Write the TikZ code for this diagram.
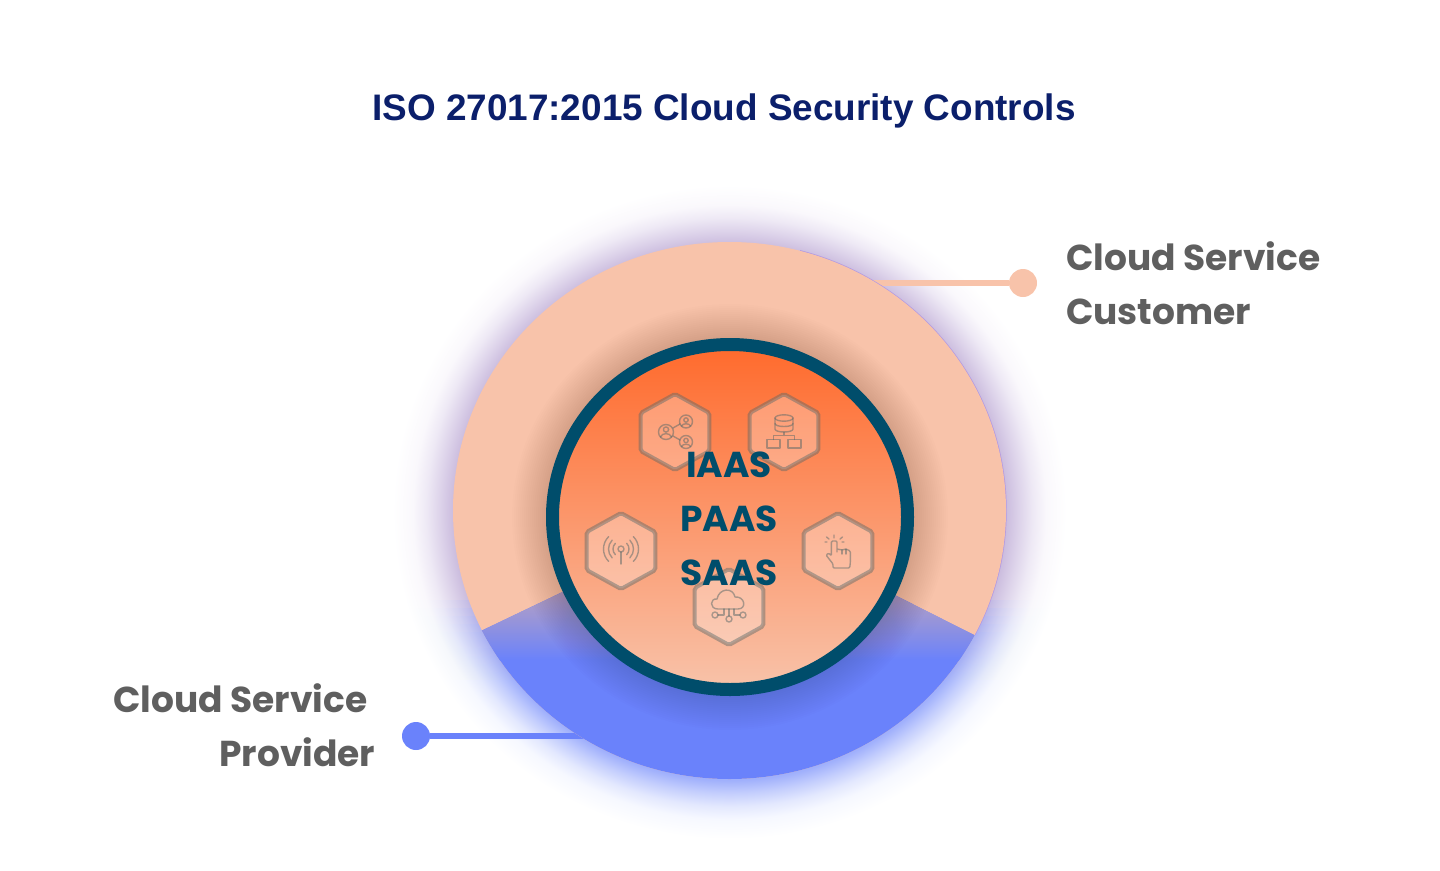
\documentclass[tikz,border=0pt]{standalone}
\usepackage{fontspec}
\setmainfont{Poppins}
\newfontfamily\titlefont{Liberation Sans}
\usetikzlibrary{positioning,shapes.geometric,fadings}

\definecolor{peach}{HTML}{F8C3AA}
\definecolor{bluefill}{HTML}{6A82FB}
\definecolor{ringblue}{HTML}{004D6B}
\definecolor{navy}{HTML}{0B1F6B}
\definecolor{labelgrey}{HTML}{5F5F5F}
\definecolor{hexline}{RGB}{88,104,104}
\definecolor{wedgetop}{HTML}{B9A2C0}
\definecolor{hottop}{HTML}{FF6A2C}
\definecolor{purplea}{RGB}{203,188,222}
\definecolor{purpleb}{RGB}{221,211,234}
\definecolor{purplec}{RGB}{238,233,245}
\definecolor{purpled}{RGB}{250,248,252}
\definecolor{bluea}{RGB}{160,176,252}
\definecolor{blueb}{RGB}{196,206,253}
\definecolor{bluec}{RGB}{227,232,254}
\definecolor{blued}{RGB}{246,248,255}

% the path's box is the middle 50bp of a shading, so its edge sits at 25bp
\pgfdeclareradialshading{glowpurple}{\pgfpointorigin}{
  color(0bp)=(purplea);
  color(20.5bp)=(purplea);
  color(21.5bp)=(purpleb);
  color(22.5bp)=(purplec);
  color(23.5bp)=(purpled);
  color(25bp)=(white);
  color(50bp)=(white)}
\pgfdeclareradialshading{glowblue}{\pgfpointorigin}{
  color(0bp)=(bluea);
  color(20.5bp)=(bluea);
  color(21.5bp)=(blueb);
  color(22.5bp)=(bluec);
  color(23.5bp)=(blued);
  color(25bp)=(white);
  color(50bp)=(white)}

\def\bluesect{(730,512) -- (1218,758) -- (1218,900) -- (242,900) -- (236,748) -- cycle}

\tikzset{
    bigtext/.style={font=\fontsize{36}{54}\selectfont\bfseries},
    inner label/.style={bigtext,text=ringblue,inner sep=0,anchor=base},
    side label/.style={bigtext,text=labelgrey,inner sep=0},
    hexcell/.style={shape=regular polygon,regular polygon sides=6,shape border rotate=30,minimum size=76pt,inner sep=0,outer sep=0,
        xscale=1.045,transform shape,
        draw=hexline,line width=4pt,rounded corners=2pt,fill=white,fill opacity=.28,draw opacity=.45},
    iconline/.style={draw=hexline,draw opacity=.5,line width=1.4pt,line cap=round,line join=round},
    peach dot/.style={shape=circle,fill=peach,minimum size=28pt,inner sep=0},
    blue dot/.style={shape=circle,fill=bluefill,minimum size=28pt,inner sep=0}
  }

\begin{document}
\begin{tikzpicture}[x=1pt,y=-1pt]
    \useasboundingbox (0,0) rectangle (1440,870);

    \node[text=navy,inner sep=0] (title) at (724,111) {\titlefont\fontsize{36.9}{40}\selectfont\bfseries ISO 27017:2015 Cloud Security Controls};

    % glow behind the disc, purple turning blue from y=600 to y=680
    \shade[shading=glowpurple] (729.5,512) ellipse (337 and 327);
    \foreach \s in {600,608,...,680}{
      \begin{scope}
        \clip (380,\s) rectangle (1080,850);
        \shade[shading=glowblue,opacity=.2] (729.5,512) ellipse (337 and 327);
      \end{scope}
    }
    \begin{scope}
      \clip (380,680) rectangle (1080,850);
      \shade[shading=glowblue] (729.5,512) ellipse (337 and 327);
    \end{scope}

    % leader lines, under the disc
    \coordinate (cust end) at (870,283);
    \coordinate (prov end) at (590,736);
    \node[peach dot] (cust dot) at (1023,283) {};
    \node[blue dot] (prov dot) at (416,736) {};
    \draw[peach,line width=6pt] (cust dot) -- (cust end);
    \draw[bluefill,line width=6pt] (prov dot) -- (prov end);

    % disc
    \begin{scope}
      \clip (800,200) rectangle (1020,634);
      \draw[violet!50!blue!40!white,line width=1.4pt] (729.5,510.5) ellipse (276.5 and 268.5);
    \end{scope}
    \fill[peach] (729.5,510.5) ellipse (276.5 and 268.5);
    \begin{scope}
      \clip (729.5,510.5) ellipse (276.5 and 268.5);
      \clip \bluesect;
      \fill[bluefill] (440,500) rectangle (1020,800);
      \shade[top color=wedgetop,bottom color=bluefill] (440,590) rectangle (1020,660);
      \fill[wedgetop] (440,500) rectangle (1020,590.5);
    \end{scope}

    % shadow round the inner circle
    \foreach \r in {0,2,...,34}{
      \fill[black,opacity=.007] (730,517) ellipse [x radius={184+\r},y radius={179+\r}];
    }

    % inner circle
    \shade[top color=hottop,bottom color=peach,draw=ringblue,line width=13pt] (730,517) ellipse (177.5 and 172.5);

    \node[hexcell] (hexa) at (675,432) {};
    \node[hexcell] (hexb) at (784,432) {};
    \node[hexcell] (hexc) at (621,551) {};
    \node[hexcell] (hexd) at (838,551) {};
    \node[hexcell] (hexe) at (729,607) {};

    % people
    \begin{scope}[shift={(hexa.center)},iconline]
      \draw (-9,0) circle (7.5) (11,-10.5) circle (6.5) (11,10) circle (6.5);
      \draw (-2,-4) -- (5,-8) (-2,4) -- (5,8);
      \draw (-9,-2.5) circle (2.6) (11,-12) circle (2.2) (11,8.5) circle (2.2);
      \draw (-14.5,5) .. controls (-13,0.5) and (-5,0.5) .. (-3.5,5);
      \draw (6.5,-6) .. controls (7.5,-9) and (14.5,-9) .. (15.5,-6);
      \draw (6.5,14.5) .. controls (7.5,11.5) and (14.5,11.5) .. (15.5,14.5);
    \end{scope}
    % database
    \begin{scope}[shift={(hexb.center)},iconline]
      \draw (0,-14) ellipse (9 and 3.2);
      \draw (-9,-14) -- (-9,-3) .. controls (-9,1) and (9,1) .. (9,-3) -- (9,-14);
      \draw (-9,-8.5) .. controls (-9,-4.5) and (9,-4.5) .. (9,-8.5);
      \draw (0,0) -- (0,3.5) (-10.7,7.5) -- (-10.7,3.5) -- (10.7,3.5) -- (10.7,7.5);
      \draw (-17,7.5) rectangle (-4,16) (4,7.5) rectangle (17,16);
    \end{scope}
    % antenna
    \begin{scope}[shift={(hexc.center)},iconline]
      \draw (0,-2) circle (3);
      \draw (0,1) -- (0,13);
      \foreach \r in {8,12.5,17.5}{
        \draw (0,-2) ++(-45:\r) arc (-45:45:\r);
        \draw (0,-2) ++(135:\r) arc (135:225:\r);
      }
    \end{scope}
    % hand
    \begin{scope}[shift={(hexd.center)},iconline,rounded corners=1.2pt]
      \draw (-1,1) -- (-1,-10) -- (-6.7,-10) -- (-6.7,5) -- (-9,2) -- (-12,4) -- (-5,13) -- (-5,17) -- (11.7,17) -- (12.3,12) -- (12.3,0) -- (8,-2) -- (4,-1) -- (-1,-2);
      \draw (4,-1) -- (4,3) (8,-2) -- (8,3);
      \draw (-4,-13) -- (-4,-16) (-9,-12) -- (-11.5,-14) (2,-12) -- (4.5,-14) (-11,-9) -- (-13,-9) (4,-9) -- (6,-9);
    \end{scope}
    % cloud
    \begin{scope}[shift={(hexe.center)},iconline]
      \draw (-4,2) -- (-11,2) .. controls (-20,2) and (-19,-9) .. (-12,-8) .. controls (-10,-19) and (4,-20) .. (6,-10) .. controls (16,-11) and (18,2) .. (9,2) -- cycle;
      \draw (0,2) -- (0,9) (-5,2) -- (-5,8) -- (-11,8) (5,2) -- (5,8) -- (11,8);
      \draw (0,12) circle (3) (-14,8) circle (3) (14,8) circle (3);
    \end{scope}

    \node[inner label] (iaas) at (729,477) {IAAS};
    \node[inner label] (paas) at (729,531) {PAAS};
    \node[inner label] (saas) at (729,585) {SAAS};

    \node[side label,anchor=base west] (cust a) at (1066,270) {Cloud Service};
    \node[side label,anchor=base west] (cust b) at (1066,324) {Customer};
    \node[side label,anchor=base east] (prov a) at (367.5,712) {Cloud Service};
    \node[side label,anchor=base east] (prov b) at (375.5,766) {Provider};

\end{tikzpicture}
\end{document}
